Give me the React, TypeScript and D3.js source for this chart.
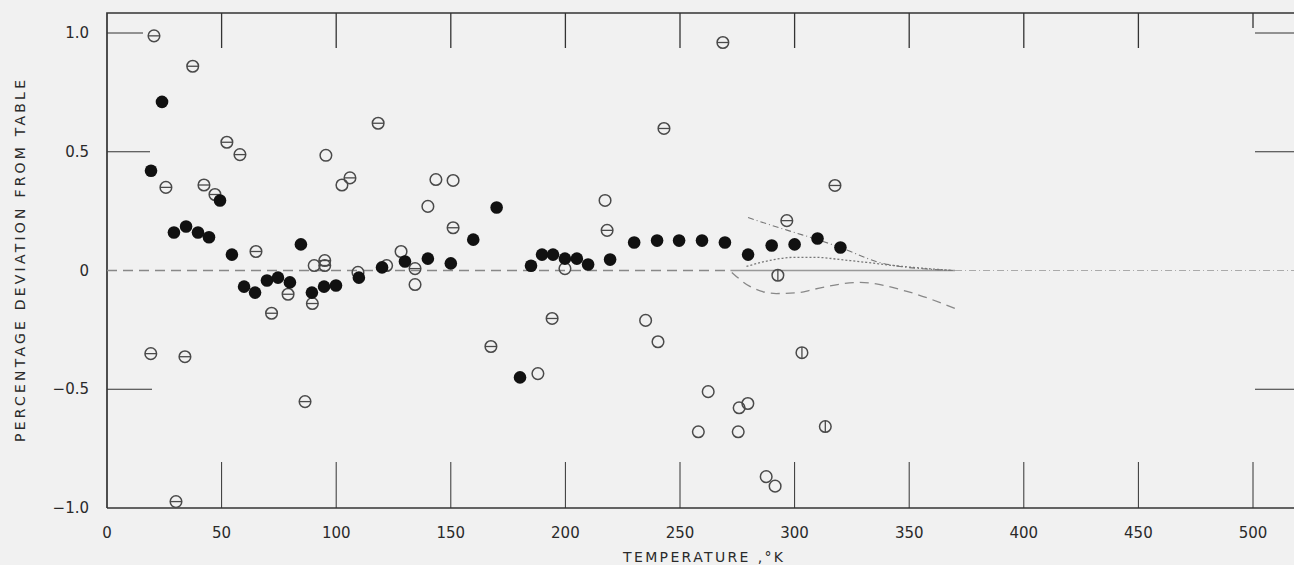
import React from 'react';
import * as d3 from 'd3';

// temperature (K), percentage deviation
const filledPts: [number, number][] = [
  [19.2, 0.42], [24, 0.71], [29.2, 0.16], [34.5, 0.185], [39.7, 0.16], [44.5, 0.14],
  [49.3, 0.295], [54.5, 0.067], [59.8, -0.068], [64.6, -0.093], [69.8, -0.042], [74.6, -0.03],
  [79.8, -0.05], [84.6, 0.11], [89.4, -0.093], [94.7, -0.068], [99.9, -0.063], [109.9, -0.03],
  [120, 0.013], [130, 0.038], [140, 0.05], [150, 0.03], [159.8, 0.13], [170, 0.265],
  [180.2, -0.45], [185, 0.02], [189.8, 0.067], [194.6, 0.067], [199.8, 0.05], [205, 0.05],
  [209.9, 0.025], [219.5, 0.046], [230, 0.118], [240, 0.126], [249.6, 0.126], [259.6, 0.126],
  [269.6, 0.118], [279.7, 0.067], [290, 0.105], [300, 0.11], [310, 0.135], [320, 0.097],
];
const openPts: [number, number][] = [
  [90.4, 0.021], [95.5, 0.485], [102.5, 0.36], [109.5, -0.008], [122, 0.021], [128.3, 0.08],
  [134.4, -0.059], [140, 0.27], [143.5, 0.383], [151, 0.379], [188, -0.434], [199.8, 0.008],
  [217.3, 0.295], [235, -0.21], [240.4, -0.3], [258, -0.679], [262.3, -0.51], [275.4, -0.679],
  [275.8, -0.578], [279.6, -0.56], [287.6, -0.868], [291.5, -0.908],
];
const hBarPts: [number, number][] = [
  [19.1, -0.35], [20.5, 0.988], [25.7, 0.35], [30.1, -0.973], [34, -0.363], [37.4, 0.86],
  [42.3, 0.36], [47.1, 0.32], [52.3, 0.54], [58, 0.488], [65, 0.08], [71.8, -0.18],
  [79, -0.1], [86.4, -0.552], [89.6, -0.139], [95, 0.042], [95, 0.021], [106, 0.39],
  [118.3, 0.62], [134.4, 0.008], [151, 0.18], [167.5, -0.32], [194.2, -0.202], [218.2, 0.169],
  [243, 0.598], [268.7, 0.96], [296.6, 0.21], [317.6, 0.358],
];
const vBarPts: [number, number][] = [[292.7, -0.02], [303.2, -0.346], [313.4, -0.657]];

const dashDotCurve: [number, number][] = [
  [279.7, 0.223], [290, 0.19], [300, 0.16], [310, 0.13], [320, 0.097], [337, 0.034], [346, 0.017], [358, 0.006], [369, 0],
];
const dottedCurve: [number, number][] = [
  [279, 0.017], [289, 0.042], [299, 0.055], [310, 0.055], [320, 0.046], [331.5, 0.034], [343, 0.021], [369, 0],
];
const dashedCurve: [number, number][] = [
  [272.6, -0.008], [280.5, -0.067], [292, -0.097], [302, -0.093], [308, -0.08], [328.5, -0.05], [349, -0.088], [371, -0.164],
];

const xTicks = [0, 50, 100, 150, 200, 250, 300, 350, 400, 450, 500];
const yTicks = [-1.0, -0.5, 0, 0.5, 1.0];
const yTickLabels = ['\u22121.0', '\u22120.5', '0', '0.5', '1.0'];

export default function App() {
  const x = d3.scaleLinear().domain([0, 500]).range([107, 1253]);
  const y = d3.scaleLinear().domain([-1, 1]).range([508, 33]);
  const top = 13, bottom = 508, left = 107, right = 1300;
  const line = d3.line<[number, number]>().x(d => x(d[0])).y(d => y(d[1])).curve(d3.curveMonotoneX);
  const dark = '#333';
  const font = 'DejaVu Sans, sans-serif';
  const r = 5.8;
  const ms = '#4a4a4a';

  return (
    <svg width={1294} height={565} style={{ position: 'absolute', left: 0, top: 0, background: '#f1f1f1' }}>
      <rect x={0} y={0} width={1294} height={565} fill="#f1f1f1" />
      {/* frame */}
      <path d={`M${left},${bottom}V${top}H${right}`} fill="none" stroke={dark} strokeWidth={1.7} />
      <line x1={left} x2={right} y1={bottom} y2={bottom} stroke={dark} strokeWidth={1.7} />
      {/* ticks */}
      {xTicks.filter(t => t > 0).map(t => (
        <g key={'xt' + t}>
          <line x1={x(t)} x2={x(t)} y1={top} y2={t === 500 ? 28 : 48} stroke={dark} strokeWidth={1.3} />
          <line x1={x(t)} x2={x(t)} y1={bottom} y2={462} stroke={dark} strokeWidth={1} />
        </g>
      ))}
      {[1.0, 0.5, -0.5].map((t, i) => (
        <g key={'yt' + t}>
          <line x1={left} x2={[143, 150, 152][i]} y1={y(t)} y2={y(t)} stroke={dark} strokeWidth={1} />
          <line x1={1255} x2={1294} y1={y(t)} y2={y(t)} stroke={dark} strokeWidth={1} />
        </g>
      ))}
      {/* tick labels */}
      {xTicks.map(t => (
        <text key={'xl' + t} x={x(t)} y={538} textAnchor="middle" fontFamily={font} fontSize={15} fill="#2a2a2a">{t}</text>
      ))}
      {yTicks.map((t, i) => (
        <text key={'yl' + t} x={89} y={y(t) + 5} textAnchor="end" fontFamily={font} fontSize={15} fill="#2a2a2a">{yTickLabels[i]}</text>
      ))}
      {/* axis titles */}
      <text x={703} y={562} textAnchor="middle" fontFamily={font} fontSize={14} fill="#2a2a2a" textLength={160} lengthAdjust="spacing">TEMPERATURE ,°K</text>
      <text transform="translate(25,261) rotate(-90)" textAnchor="middle" fontFamily={font} fontSize={14} fill="#2a2a2a" textLength={362} lengthAdjust="spacing">PERCENTAGE  DEVIATION  FROM  TABLE</text>
      {/* zero reference lines */}
      <line x1={x(0)} x2={x(272)} y1={y(0)} y2={y(0)} stroke="#888" strokeWidth={1.4} strokeDasharray="10 6" />
      <line x1={x(272)} x2={x(370)} y1={y(0)} y2={y(0)} stroke="#999" strokeWidth={1.6} />
      <line x1={x(370)} x2={right} y1={y(0)} y2={y(0)} stroke="#aaa" strokeWidth={1} strokeDasharray="7 3 1 3" />
      {/* curves */}
      <path d={line(dashDotCurve) || ''} fill="none" stroke="#777" strokeWidth={1.1} strokeDasharray="6 3 1 3" />
      <path d={line(dottedCurve) || ''} fill="none" stroke="#777" strokeWidth={1.3} strokeDasharray="2 2" />
      <path d={line(dashedCurve) || ''} fill="none" stroke="#888" strokeWidth={1.3} strokeDasharray="9 6" />
      {/* points */}
      {openPts.map((d, i) => (
        <circle key={'o' + i} cx={x(d[0])} cy={y(d[1])} r={r} fill="none" stroke={ms} strokeWidth={1.5} />
      ))}
      {hBarPts.map((d, i) => (
        <g key={'h' + i}>
          <circle cx={x(d[0])} cy={y(d[1])} r={r} fill="none" stroke={ms} strokeWidth={1.5} />
          <line x1={x(d[0]) - r} x2={x(d[0]) + r} y1={y(d[1])} y2={y(d[1])} stroke={ms} strokeWidth={1.3} />
        </g>
      ))}
      {vBarPts.map((d, i) => (
        <g key={'v' + i}>
          <circle cx={x(d[0])} cy={y(d[1])} r={r} fill="none" stroke={ms} strokeWidth={1.5} />
          <line x1={x(d[0])} x2={x(d[0])} y1={y(d[1]) - r} y2={y(d[1]) + r} stroke={ms} strokeWidth={1.3} />
        </g>
      ))}
      {filledPts.map((d, i) => (
        <circle key={'f' + i} cx={x(d[0])} cy={y(d[1])} r={6.3} fill="#111" />
      ))}
    </svg>
  );
}
